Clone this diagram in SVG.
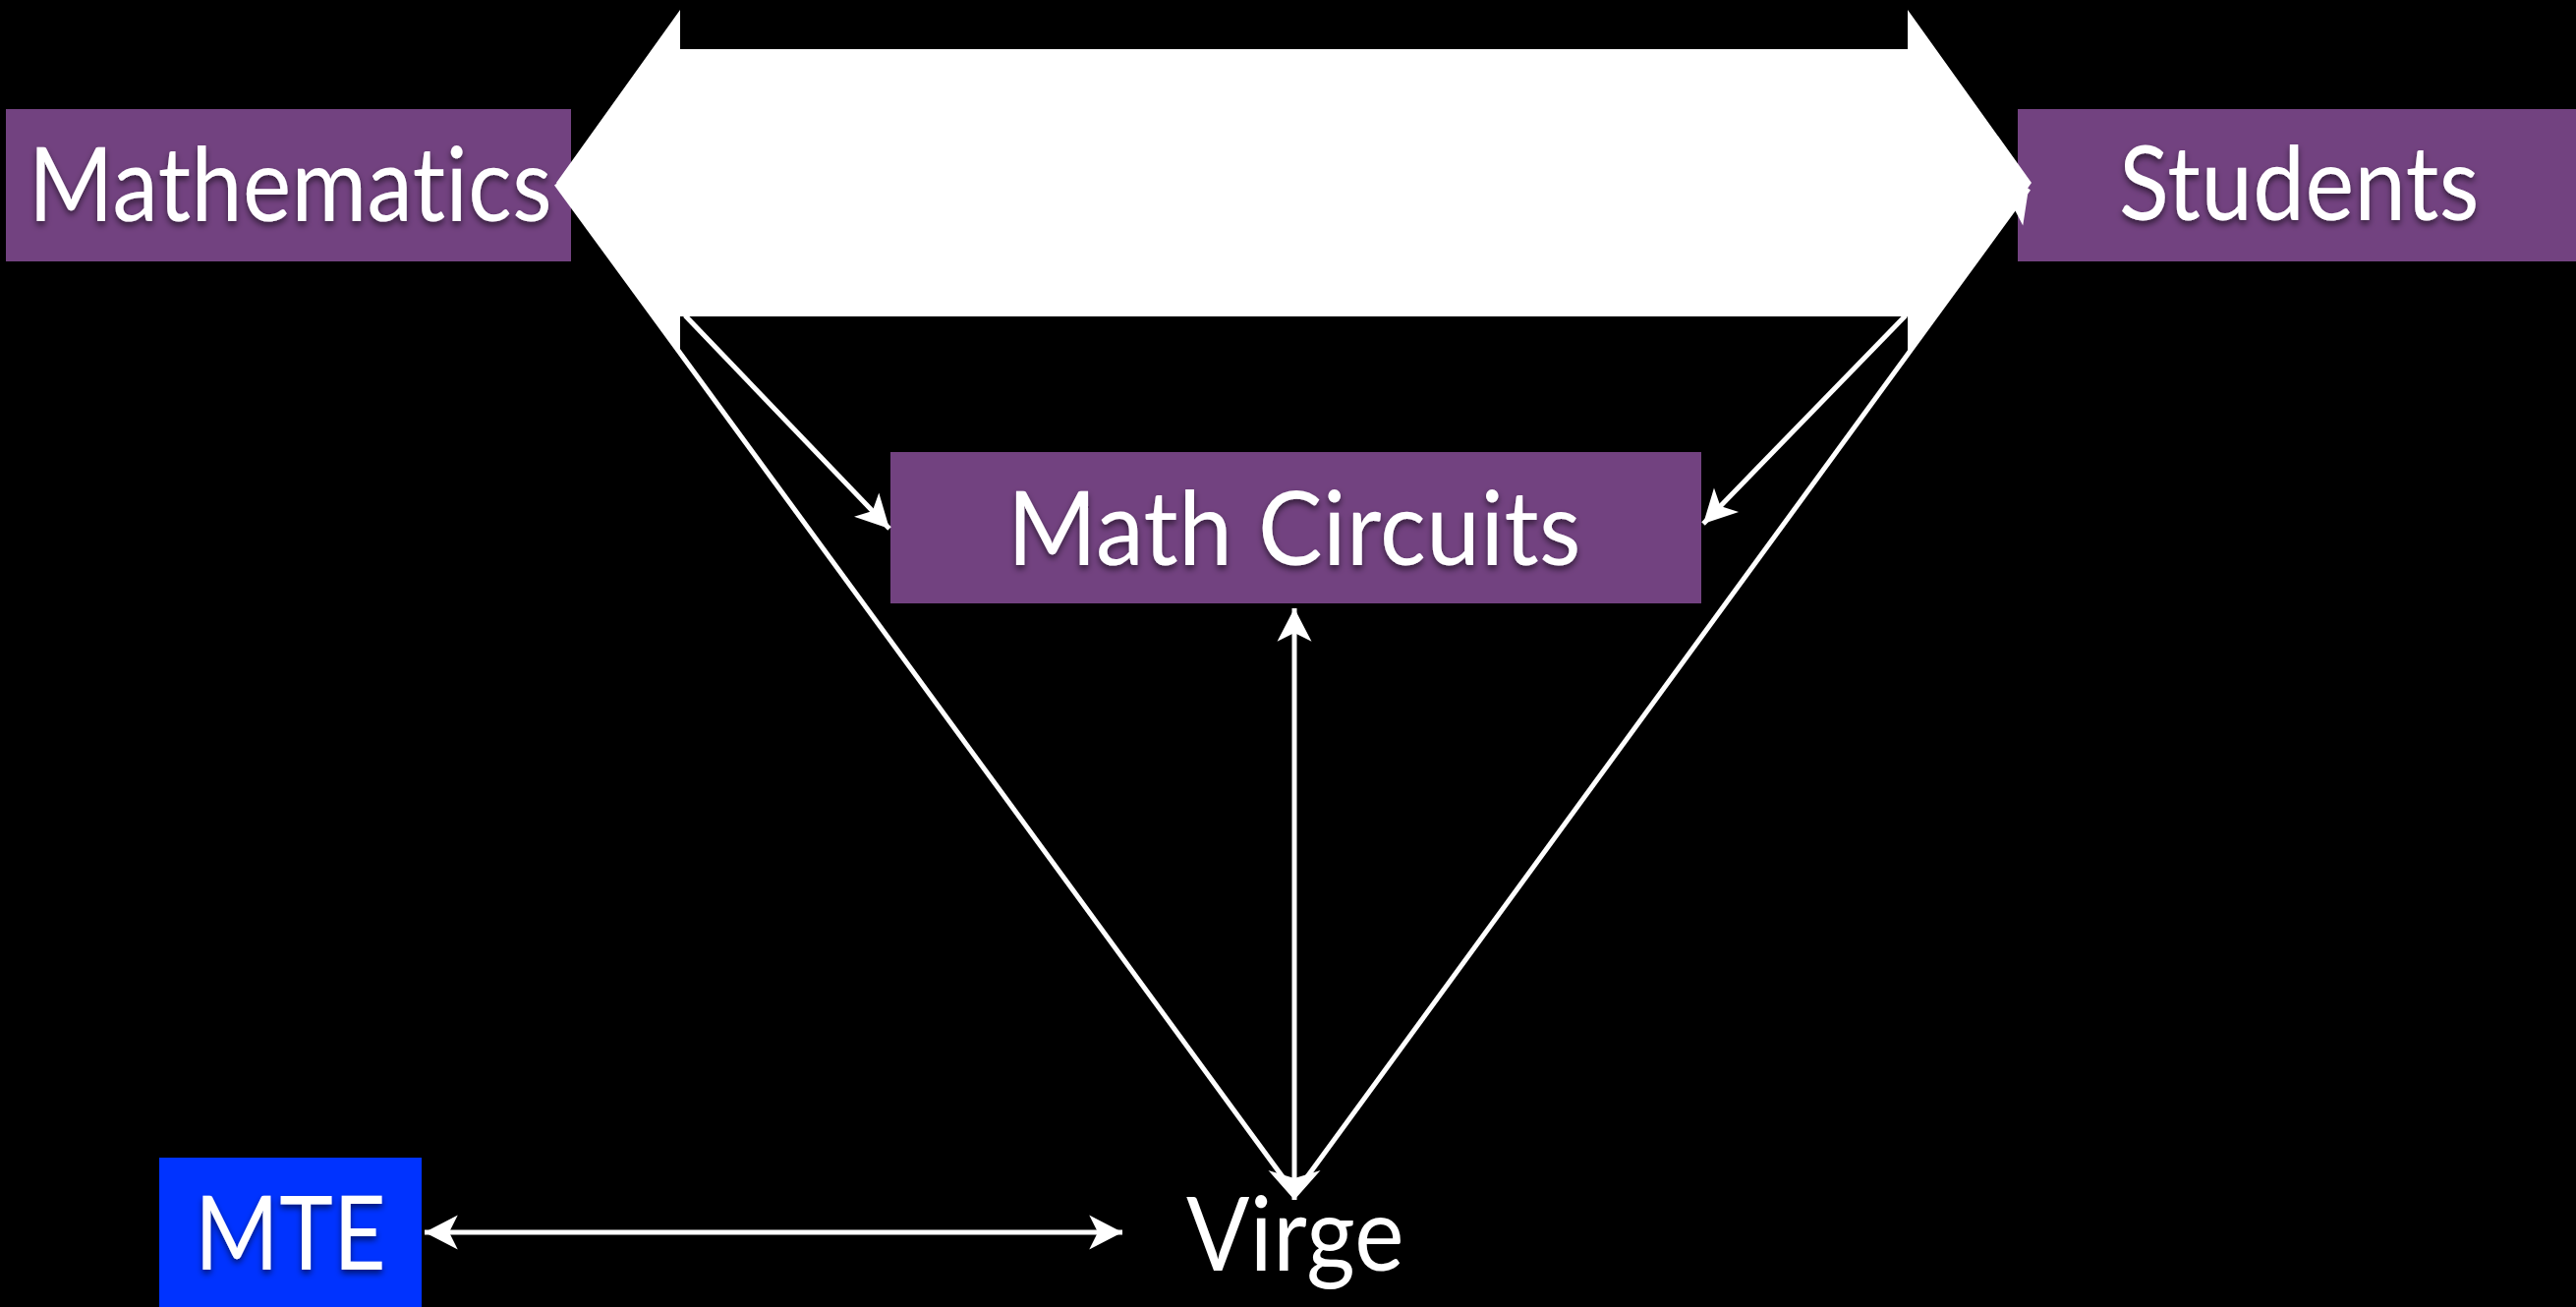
<svg xmlns="http://www.w3.org/2000/svg" width="2621" height="1330" viewBox="0 0 2621 1330">
  <style>
    .box { fill: #724280; }
    .mte { fill: #0033ff; }
    .lbl { font-family: Lato, "Open Sans", "Liberation Sans", sans-serif; font-size: 104px; fill: #ffffff; text-anchor: start; font-variant-ligatures: none; font-feature-settings: "liga" 0, "clig" 0, "dlig" 0; letter-spacing: 0.5px; }
    .line { stroke: #ffffff; stroke-width: 5; fill: none; }
  </style>
  <defs>
    <filter id="shadow" x="-10%" y="-30%" width="120%" height="160%">
      <feDropShadow dx="0" dy="4" stdDeviation="3" flood-color="#000000" flood-opacity="0.55"/>
    </filter>
    <marker id="head" markerUnits="userSpaceOnUse" markerWidth="40" markerHeight="40" viewBox="-30 -16 32 32" refX="0" refY="0" orient="auto-start-reverse">
      <path d="M0,0 L-27,-14 L-20,0 L-27,14 Z" fill="#ffffff"/>
    </marker>
    <marker id="wide" markerUnits="userSpaceOnUse" markerWidth="50" markerHeight="60" viewBox="-30 -26 32 52" refX="0" refY="0" orient="auto-start-reverse">
      <path d="M0,0 L-26,-23 L-19,0 L-26,23 Z" fill="#ffffff"/>
    </marker>
  </defs>
  <rect x="0" y="0" width="2621" height="1330" fill="#000000"/>

  <g id="node-mathematics">
    <rect class="box" x="6" y="111" width="575" height="155"/>
    <text class="lbl" x="29" y="225" textLength="533" lengthAdjust="spacingAndGlyphs" filter="url(#shadow)">Mathematics</text>
  </g>
  <g id="node-students">
    <rect class="box" x="2053" y="111" width="568" height="155"/>
    <text class="lbl" x="2156" y="224" textLength="367" lengthAdjust="spacingAndGlyphs" filter="url(#shadow)">Students</text>
  </g>
  <g id="node-math-circuits">
    <rect class="box" x="906" y="460" width="825" height="154"/>
    <text class="lbl" x="1025" y="575" textLength="584" lengthAdjust="spacingAndGlyphs" filter="url(#shadow)">Math Circuits</text>
  </g>
  <g id="node-mte">
    <rect class="mte" x="162" y="1178" width="267" height="152"/>
    <text class="lbl" x="198" y="1292" textLength="195" lengthAdjust="spacingAndGlyphs" filter="url(#shadow)">MTE</text>
  </g>
  <g id="node-virge">
    <text class="lbl" x="1207" y="1293" textLength="222" lengthAdjust="spacingAndGlyphs">Virge</text>
  </g>

  <g id="connectors">
    <line class="line" x1="1317" y1="1221" x2="1317" y2="619" marker-start="url(#wide)" marker-end="url(#head)"/>
    <line class="line" x1="1309" y1="1203" x2="566" y2="187"/>
    <line class="line" x1="1326" y1="1203" x2="2064" y2="192" marker-end="url(#head)"/>
    <line class="line" x1="697" y1="321" x2="905" y2="538" marker-end="url(#head)"/>
    <line class="line" x1="1939" y1="321" x2="1733" y2="533" marker-end="url(#head)"/>
    <line class="line" x1="432" y1="1254" x2="1142" y2="1254" marker-start="url(#head)" marker-end="url(#head)"/>
    <polygon id="big-double-arrow" fill="#ffffff" points="566,186 692,10 692,50 1941,50 1941,10 2067,186 1941,362 1941,322 692,322 692,362"/>
  </g>
</svg>
